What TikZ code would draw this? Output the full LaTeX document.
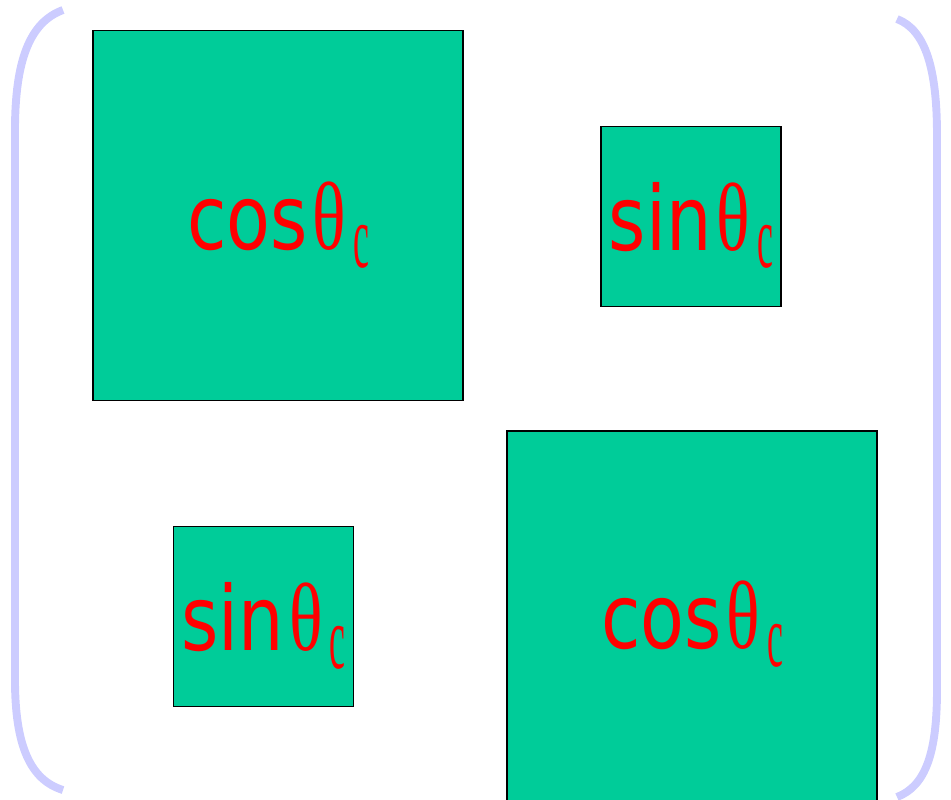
\documentclass[tikz,border=0pt]{standalone}
\usepackage{fontspec}
\usepackage{graphicx}
\usepackage{tikz}
\usetikzlibrary{positioning}
\newfontfamily\trigsans{DejaVu Sans}
\newfontfamily\trigserif{Liberation Serif}
\definecolor{Tile}{HTML}{00CC99}
\definecolor{Word}{HTML}{FF0000}
\definecolor{Brace}{HTML}{CCCCFF}
\newcommand\trig[1]{%
  \scalebox{0.8}[1]{\trigsans #1}\kern0.1cm
  \scalebox{0.78}[1.08]{\trigserif θ}\kern0.14cm
  \raisebox{-0.36cm}{\scalebox{0.4}[1]{\trigserif c}}}
\tikzset{
  tile/.style={
    rectangle,draw=black,line width=0.8pt,fill=Tile,
    inner sep=0pt,minimum size=7.4cm
  },
  smalltile/.style={tile,minimum size=3.6cm},
  trigtext/.style={
    anchor=base,inner sep=0pt,text=Word,
    font=\fontsize{51}{60}\selectfont
  },
  brace/.style={Brace,line width=4.5pt}
}
\begin{document}
\begin{tikzpicture}[x=0.02cm,y=-0.02cm]
        \useasboundingbox (0,0) rectangle (951,799);
        \draw[brace] (63,10) .. controls (30,22) and (15,60) .. (15,130)
          -- (15,680) .. controls (15,745) and (30,780) .. (63,790);
        \draw[brace] (897,19) .. controls (926,30) and (937,70) .. (937,135)
          -- (937,690) .. controls (937,752) and (926,786) .. (897,797);
        \node[tile] (costop) at (278,215.5) {};
        \node[smalltile] (sintop) at (691,216.5) {};
        \node[smalltile] (sinbot) at (263.5,616.5) {};
        \node[tile] (cosbot) at (692,616) {};
        \node[trigtext] (costoptext) at ([yshift=-0.68cm]costop.center) {\trig{cos}};
        \node[trigtext] (sintoptext) at ([yshift=-0.67cm]sintop.center) {\trig{sin}};
        \node[trigtext] (sinbottext) at ([yshift=-0.67cm]sinbot.center) {\trig{sin}};
        \node[trigtext] (cosbottext) at ([yshift=-0.64cm]cosbot.center) {\trig{cos}};
      \end{tikzpicture}
\end{document}
